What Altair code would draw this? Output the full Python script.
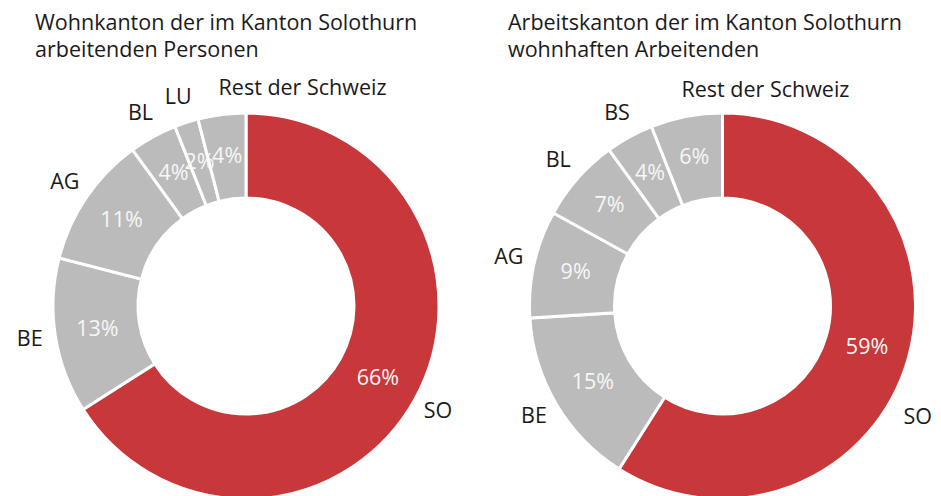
import altair as alt
import pandas as pd

# ---- data ----
left_title = ["Wohnkanton der im Kanton Solothurn", "arbeitenden Personen"]
left_cats = ["SO", "BE", "AG", "BL", "LU", "Rest der Schweiz"]
left_vals = [66, 13, 11, 4, 2, 4]

right_title = ["Arbeitskanton der im Kanton Solothurn", "wohnhaften Arbeitenden"]
right_cats = ["SO", "BE", "AG", "BL", "BS", "Rest der Schweiz"]
right_vals = [59, 15, 9, 7, 4, 6]

RED = "#C8373A"
GRAY = "#BBBBBB"
FONT = "Open Sans"
TXT = "#1a1a1a"
FS = 21.5

PANEL_W = 462
PANEL_H = 440
CY = 237
R_OUT = 193
R_IN = 108
R_LAB = 219


def panel(cats, vals, title, cx, title_dx, so_dx, so_dy):
    df = pd.DataFrame({"cat": cats, "val": vals, "idx": list(range(len(cats)))})
    base = alt.Chart(df).transform_calculate(
        pct="datum.val + '%'",
        lab_so="datum.cat == 'SO' ? datum.cat : ''",
        lab_rest="datum.cat == 'Rest der Schweiz' ? datum.cat : ''",
        lab_c="(datum.cat == 'SO' || datum.cat == 'Rest der Schweiz') ? '' : datum.cat",
    ).encode(
        theta=alt.Theta("val:Q", stack=True),
        order=alt.Order("idx:Q"),
        detail="cat:N",
        x=alt.value(cx),
        y=alt.value(CY),
    )
    arcs = base.mark_arc(
        innerRadius=R_IN, outerRadius=R_OUT, stroke="white", strokeWidth=3, clip=True
    ).encode(
        color=alt.condition("datum.cat == 'SO'", alt.value(RED), alt.value(GRAY))
    )
    pct = base.mark_text(
        radius=(R_IN + R_OUT) / 2, fontSize=FS, font=FONT, color="#f7f7f7"
    ).encode(text="pct:N")
    lab_so = base.mark_text(
        radius=R_LAB, fontSize=FS, font=FONT, color=TXT, dx=so_dx, dy=so_dy
    ).encode(text="lab_so:N")
    lab_rest = base.mark_text(
        radius=R_LAB, fontSize=FS, font=FONT, color=TXT, align="left"
    ).encode(text="lab_rest:N")
    lab_c = base.mark_text(
        radius=R_LAB, fontSize=FS, font=FONT, color=TXT
    ).encode(text="lab_c:N")
    return alt.layer(arcs, pct, lab_so, lab_rest, lab_c).properties(
        width=PANEL_W,
        height=PANEL_H,
        title=alt.TitleParams(
            title,
            anchor="start",
            frame="group",
            dx=title_dx,
            fontSize=FS,
            font=FONT,
            fontWeight="normal",
            color=TXT,
            lineHeight=27,
            offset=8,
        ),
    )


left = panel(left_cats, left_vals, left_title, 238, 27, 0, 0)
right = panel(right_cats, right_vals, right_title, 252.5, 38, -15, 51)

chart = (
    alt.hconcat(left, right, spacing=0)
    .properties(padding={"left": 0, "top": 4, "right": 0, "bottom": 0})
    .configure_view(strokeWidth=0)
)

chart.save("out.html", embed_options={"renderer": "svg", "actions": False})
